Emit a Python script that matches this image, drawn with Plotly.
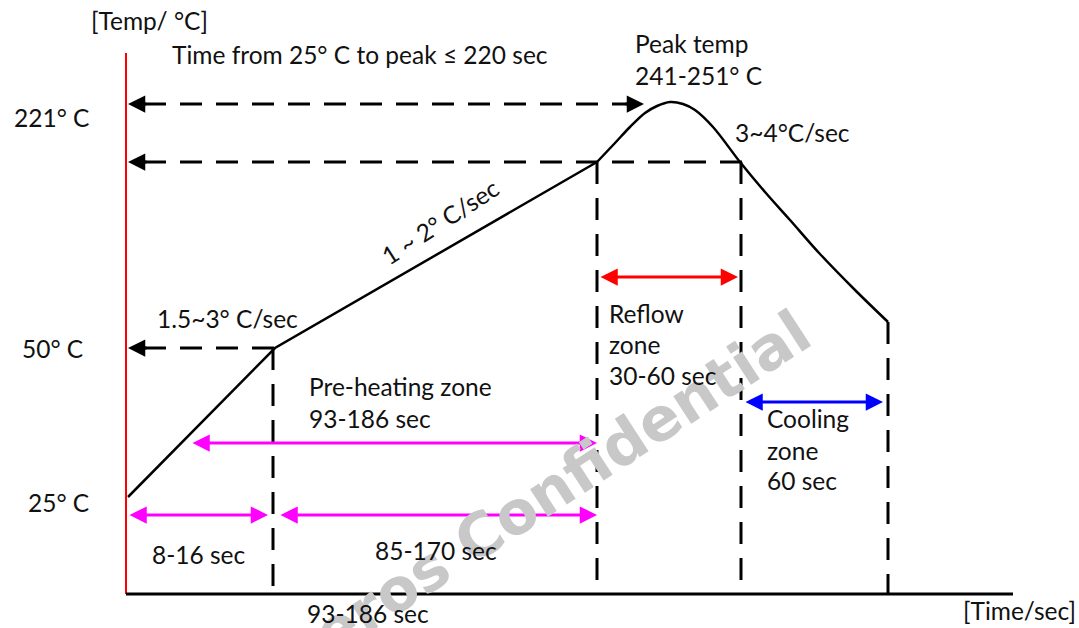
import plotly.graph_objects as go

# ---------------- data (schematic units: time t, temperature T) ----------------
ramp_t = [2, 149, 471]
ramp_T = [97, 246, 432]

bump_t = [471, 489, 504, 519, 531, 544, 557, 569, 587, 614, 639, 664, 694, 729, 762]
bump_T = [432, 451, 467, 481, 488, 492, 490, 484, 467, 432, 402, 374, 340, 304, 272]

# dashed horizontal guides: (t_start, t_end, T, heads)
guide_h_t0 = [2, 2, 2]
guide_h_t1 = [518, 622, 149]
guide_h_T = [490, 432, 246]
guide_h_heads = ["both", "left", "left"]

# dashed vertical guides
guide_v_t = [147, 471, 615, 762]
guide_v_T = [246, 432, 432, 272]

# solid double arrows
zone_t0 = [65, 2, 153, 473, 618]
zone_t1 = [471, 142, 471, 612, 757]
zone_T = [151, 79, 79, 317, 192]
zone_colors = ["#FF00FF", "#FF00FF", "#FF00FF", "#FF0000", "#0000FF"]

# text labels
label_text = ["[Temp/ °C]", "Time from 25° C to peak ≤ 220 sec", "221° C", "50° C", "25° C",
              "Peak temp", "241-251° C", "3~4°C/sec", "1.5~3° C/sec",
              "Pre-heating zone", "93-186 sec", "Reflow", "zone", "30-60 sec",
              "Cooling", "zone", "60 sec", "8-16 sec", "85-170 sec", "93-186 sec", "[Time/sec]"]
label_t = [-37, 44, -114, -106, -100, 507, 507, 607, 29, 181, 181, 481, 481, 481,
           639, 639, 639, 24, 247, 179, 835]
label_T = [574, 540, 477, 246, 92, 551, 519, 462, 276, 208, 176, 281, 250, 219,
           176, 144, 114, 40, 44, -19, -16]

slope_text = "1 ~ 2° C/sec"
slope_t, slope_T, slope_angle = 314, 373, -33

y_axis_top = 541
x_axis_end = 887

watermark_text = "Atheros Confidential"
watermark_t, watermark_T, watermark_angle = 386, 79, -33

FONT = "Lato"
FS = 24.5

fig = go.Figure()

# axes
fig.add_trace(go.Scatter(x=[0, 0], y=[0, y_axis_top], mode="lines",
                         line=dict(color="#FF0000", width=2), hoverinfo="skip"))
fig.add_trace(go.Scatter(x=[0, x_axis_end], y=[0, 0], mode="lines",
                         line=dict(color="black", width=3), hoverinfo="skip"))

# dashed guides
DASH = "22px,14px"
for t0, t1, T, h in zip(guide_h_t0, guide_h_t1, guide_h_T, guide_h_heads):
    s = t0 + 16 if h in ("left", "both") else t0
    e = t1 - 16 if h in ("right", "both") else t1
    fig.add_trace(go.Scatter(x=[s, e], y=[T, T], mode="lines",
                             line=dict(color="black", width=3, dash=DASH), hoverinfo="skip"))
    if h in ("left", "both"):
        fig.add_annotation(x=t0, y=T, ax=t0 + 20, ay=T, xref="x", yref="y", axref="x", ayref="y",
                           text="", showarrow=True, arrowhead=2, arrowsize=1.15, arrowwidth=3,
                           arrowcolor="black", standoff=0)
    if h in ("right", "both"):
        fig.add_annotation(x=t1, y=T, ax=t1 - 20, ay=T, xref="x", yref="y", axref="x", ayref="y",
                           text="", showarrow=True, arrowhead=2, arrowsize=1.15, arrowwidth=3,
                           arrowcolor="black", standoff=0)

for t, T in zip(guide_v_t, guide_v_T):
    fig.add_trace(go.Scatter(x=[t, t], y=[T, 0], mode="lines",
                             line=dict(color="black", width=3, dash=DASH), hoverinfo="skip"))

# profile curve
fig.add_trace(go.Scatter(x=ramp_t, y=ramp_T, mode="lines",
                         line=dict(color="black", width=2.5), hoverinfo="skip"))
fig.add_trace(go.Scatter(x=bump_t, y=bump_T, mode="lines",
                         line=dict(color="black", width=2.5, shape="spline", smoothing=1),
                         hoverinfo="skip"))

# zone arrows
for t0, t1, T, c in zip(zone_t0, zone_t1, zone_T, zone_colors):
    fig.add_annotation(x=t1, y=T, ax=t0, ay=T, xref="x", yref="y", axref="x", ayref="y",
                       text="", showarrow=True, arrowhead=2, startarrowhead=2,
                       arrowside="end+start", arrowsize=1.15, startarrowsize=1.15,
                       arrowwidth=3, arrowcolor=c, standoff=0, startstandoff=0)

# watermark
fig.add_annotation(x=watermark_t, y=watermark_T, xref="x", yref="y", text=watermark_text,
                   showarrow=False, textangle=watermark_angle,
                   font=dict(family="DejaVu Sans", size=60, color="#c8c8c8", weight="bold"))

# labels
for txt, t, T in zip(label_text, label_t, label_T):
    fig.add_annotation(x=t, y=T, xref="x", yref="y", text=txt, showarrow=False,
                       xanchor="left", yanchor="middle",
                       font=dict(family=FONT, size=FS, color="#111111"))
fig.add_annotation(x=slope_t, y=slope_T, xref="x", yref="y", text=slope_text, showarrow=False,
                   textangle=slope_angle, font=dict(family=FONT, size=FS, color="#111111"))

fig.update_layout(
    width=1079, height=628,
    margin=dict(l=0, r=0, t=0, b=0),
    paper_bgcolor="white", plot_bgcolor="white",
    showlegend=False,
    xaxis=dict(range=[-126, 953], visible=False, fixedrange=True),
    yaxis=dict(range=[-34, 594], visible=False, fixedrange=True),
)

fig.write_html("out.html", config={"displayModeBar": False},
               post_script="document.body.style.margin='0';")
